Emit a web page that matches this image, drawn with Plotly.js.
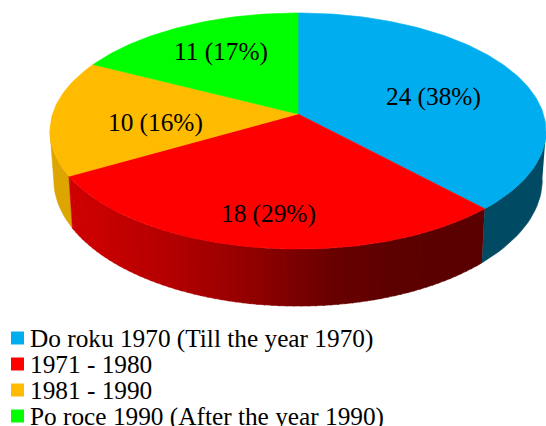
<!DOCTYPE html>
<html><head><meta charset="utf-8">
<script src="https://cdn.plot.ly/plotly-3.0.1.min.js"></script>
<style>html,body{margin:0;padding:0;background:#fff}</style></head>
<body><div id="chart" style="width:546px;height:426px"></div>
<script>
const categories = ["Do roku 1970 (Till the year 1970)", "1971 - 1980", "1981 - 1990", "Po roce 1990 (After the year 1990)"];
const values = [24, 18, 10, 11];
const percentLabels = ["38%", "29%", "16%", "17%"];
const topColors = ["#00aeef", "#ff0000", "#ffbb00", "#00ff00"];
const sideColors = ["#004a63", null, "#dca500", "#00a000"];
const labelX = [433, 268, 155, 221];
const labelY = [96, 213, 122, 51];
const legendRowY = [338, 364, 390, 416];

const total = values.reduce((a, b) => a + b, 0);
const FONT = "Liberation Serif, Times New Roman, serif";

// Perspective projection of the unit disc onto the page (page pixels = axis units)
function topPoint(deg, r) {
  const t = deg * Math.PI / 180, X = r * Math.sin(t), Y = r * Math.cos(t), w = 1 + 0.1442 * Y;
  return [298 + 245.4 * X / w, 114 - 115.6 * Y / w];
}
function basePoint(deg) {
  const p = topPoint(deg, 1);
  return [298 + 0.985 * (p[0] - 298), 161.5 + 1.07 * (p[1] - 114)];
}
function redShade(x) {
  const stops = [[60, 208], [100, 200], [180, 175], [240, 150], [290, 125], [330, 105], [400, 92], [500, 90]];
  for (let i = 1; i < stops.length; i++) {
    if (x <= stops[i][0]) {
      const f = (x - stops[i - 1][0]) / (stops[i][0] - stops[i - 1][0]);
      return "rgb(" + Math.round(stops[i - 1][1] + f * (stops[i][1] - stops[i - 1][1])) + ",0,0)";
    }
  }
  return "rgb(90,0,0)";
}
function poly(pts, color, name) {
  return {type: "scatter", mode: "lines", x: pts.map(p => p[0]), y: pts.map(p => p[1]),
    fill: "toself", fillcolor: color, line: {color: color, width: 0.6},
    hoverinfo: "skip", showlegend: false, name: name};
}
function wall(a0, a1, color, name) {
  const pts = [], n = Math.ceil(Math.abs(a1 - a0) / 2);
  for (let i = 0; i <= n; i++) pts.push(topPoint(a0 + (a1 - a0) * i / n, 1));
  for (let i = n; i >= 0; i--) pts.push(basePoint(a0 + (a1 - a0) * i / n));
  return poly(pts, color, name);
}

const bounds = [0];
values.forEach(v => bounds.push(bounds[bounds.length - 1] + v / total * 360));

const traces = [];
// side walls: each ends at the disc's silhouette angle so the outline is the straight tangent
traces.push(wall(98.3, bounds[1], sideColors[0], categories[0] + " side"));
traces.push(wall(bounds[2], 261.7, sideColors[2], categories[2] + " side"));
const STEP = 1.5;
for (let a = bounds[1]; a < bounds[2]; a += STEP) {
  const b = Math.min(a + STEP + 0.3, bounds[2]);
  const xm = topPoint((a + b) / 2, 1)[0];
  traces.push(wall(a, b, redShade(xm), categories[1] + " side"));
}
// top faces
values.forEach((v, i) => {
  const pts = [topPoint(0, 0)], n = Math.ceil((bounds[i + 1] - bounds[i]) / 1);
  for (let k = 0; k <= n; k++) pts.push(topPoint(bounds[i] + (bounds[i + 1] - bounds[i]) * k / n, 1));
  pts.push(topPoint(0, 0));
  traces.push(poly(pts, topColors[i], categories[i]));
});
// legend swatches
categories.forEach((c, i) => {
  traces.push({type: "scatter", mode: "markers", x: [17.5], y: [legendRowY[i]],
    marker: {symbol: "square", size: 13, color: topColors[i]},
    hoverinfo: "skip", showlegend: false, name: c});
});

const annotations = values.map((v, i) => ({
  x: labelX[i], y: labelY[i], xref: "x", yref: "y", showarrow: false,
  text: v + " (" + percentLabels[i] + ")", font: {family: FONT, size: 25.3, color: "#000"},
  xanchor: "center", yanchor: "middle"
})).concat(categories.map((c, i) => ({
  x: 30, y: legendRowY[i], xref: "x", yref: "y", showarrow: false, text: c,
  font: {family: FONT, size: 25.3, color: "#000"}, xanchor: "left", yanchor: "middle", xshift: -2
})));

Plotly.newPlot("chart", traces, {
  width: 546, height: 426, margin: {l: 0, r: 0, t: 0, b: 0},
  paper_bgcolor: "#fff", plot_bgcolor: "#fff", showlegend: false,
  xaxis: {range: [0, 546], visible: false, fixedrange: true},
  yaxis: {range: [426, 0], visible: false, fixedrange: true},
  annotations: annotations
}, {displayModeBar: false, staticPlot: true});
</script></body></html>
